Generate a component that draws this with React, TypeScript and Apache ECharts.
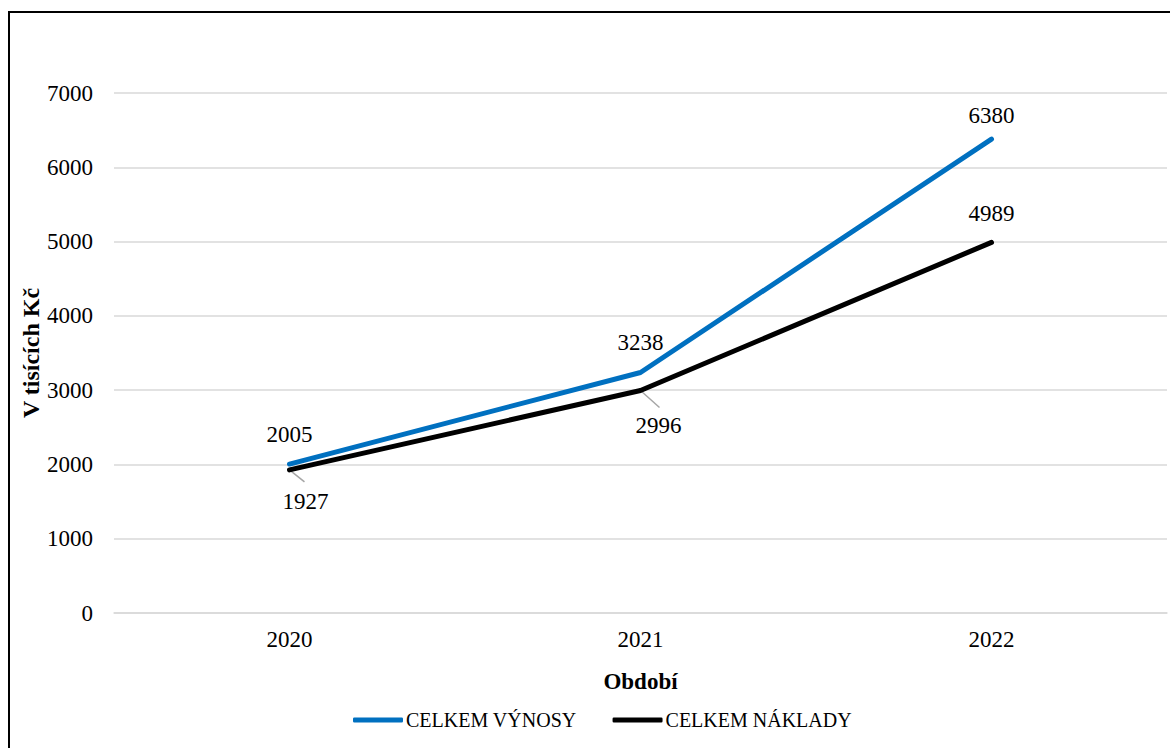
import React, { useEffect, useRef } from "react";
import * as echarts from "echarts";

const categories = ["2020", "2021", "2022"];
const vynosy = [2005, 3238, 6380];
const naklady = [1927, 2996, 4989];
const seriesNames = ["CELKEM VÝNOSY", "CELKEM NÁKLADY"];
// points of the cost series whose labels sit below with a leader line
const leaderIdx = [0, 1];
const FONT = "'Liberation Serif', 'Times New Roman', serif";

export default function App() {
  const ref = useRef<HTMLDivElement>(null);
  useEffect(() => {
    const chart = echarts.init(ref.current!, null, { renderer: "svg" });
    const labelBase = {
      show: true,
      fontFamily: FONT,
      fontSize: 23,
      color: "#000",
    };
    const leaderEnd = [
      [15, 12],
      [19, 17],
    ];
    const labelOffsets = [
      [16, 15],
      [18, 19],
    ];
    chart.setOption({
      animation: false,
      backgroundColor: "#ffffff",
      textStyle: { fontFamily: FONT, color: "#000" },
      graphic: [
        {
          type: "rect",
          shape: { x: 9, y: 12, width: 1300, height: 900 },
          style: { fill: "none", stroke: "#000", lineWidth: 2 },
          silent: true,
        },
      ],
      grid: { left: 114, right: 3, top: 93, bottom: 135, containLabel: false },
      legend: {
        bottom: 13,
        left: 348,
        icon: "roundRect",
        itemWidth: 50,
        itemHeight: 5,
        itemGap: 36,
        textStyle: { fontFamily: FONT, fontSize: 20, color: "#000", padding: [0, 0, 0, -2] },
        data: seriesNames,
      },
      xAxis: {
        type: "category",
        data: categories,
        boundaryGap: true,
        name: "Období",
        nameLocation: "middle",
        nameGap: 57,
        nameMoveOverlap: false,
        nameTextStyle: { fontFamily: FONT, fontSize: 23, fontWeight: "bold", color: "#000" },
        axisLine: { show: true, lineStyle: { color: "#d9d9d9", width: 1.5 } },
        axisTick: { show: false },
        axisLabel: { fontFamily: FONT, fontSize: 23, color: "#000", margin: 15 },
      },
      yAxis: {
        type: "value",
        min: 0,
        max: 7000,
        interval: 1000,
        name: "V tisících Kč",
        nameLocation: "middle",
        nameGap: 71,
        nameMoveOverlap: false,
        nameTextStyle: { fontFamily: FONT, fontSize: 24, fontWeight: "bold", color: "#000" },
        axisLine: { show: false },
        axisTick: { show: false },
        axisLabel: {
          fontFamily: FONT,
          fontSize: 23,
          color: "#000",
          margin: 21,
          formatter: (v: number) => String(v),
        },
        splitLine: { lineStyle: { color: "#d9d9d9", width: 1.5 } },
      },
      series: [
        {
          name: "leaders",
          type: "custom",
          data: leaderIdx.map((i) => [i, naklady[i]]),
          z: 2,
          silent: true,
          renderItem: (params: any, api: any) => {
            const p = api.coord([api.value(0), api.value(1)]);
            const o = leaderEnd[params.dataIndex];
            return {
              type: "line",
              shape: { x1: p[0], y1: p[1], x2: p[0] + o[0], y2: p[1] + o[1] },
              style: { stroke: "#a6a6a6", lineWidth: 1.5 },
            };
          },
        },
        {
          name: seriesNames[0],
          type: "line",
          data: vynosy.map((v, i) =>
            i === 2 ? { value: v, label: { distance: 12 } } : v
          ),
          symbol: "circle",
          symbolSize: 0,
          showSymbol: true,
          lineStyle: { color: "#0070c0", width: 5, cap: "round", join: "round" },
          itemStyle: { color: "#0070c0" },
          label: { ...labelBase, position: "top", distance: 18 },
          z: 3,
        },
        {
          name: seriesNames[1],
          type: "line",
          data: naklady.map((v, i) =>
            i === 2
              ? { value: v, label: { position: "top", distance: 17 } }
              : { value: v, label: { offset: labelOffsets[i] } }
          ),
          symbol: "circle",
          symbolSize: 0,
          showSymbol: true,
          lineStyle: { color: "#000000", width: 5, cap: "round", join: "round" },
          itemStyle: { color: "#000000" },
          label: { ...labelBase, position: "bottom", distance: 5 },
          z: 4,
        },
      ],
    });
    return () => chart.dispose();
  }, []);
  return (
    <div
      ref={ref}
      style={{ position: "fixed", left: 0, top: 0, width: 1170, height: 748 }}
    />
  );
}
